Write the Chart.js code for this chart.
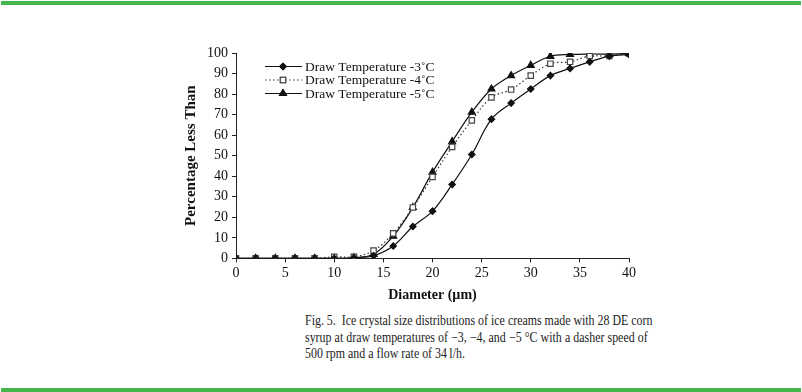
<!DOCTYPE html>
<html>
<head>
<meta charset="utf-8">
<script src="https://cdn.jsdelivr.net/npm/chart.js@4.4.1/dist/chart.umd.min.js"></script>
<style>
  html, body { margin: 0; padding: 0; background: #fff; }
  body { width: 802px; height: 392px; position: relative; overflow: hidden; }
  .bar { position: absolute; left: 1px; width: 800px; height: 4px; background: #45b649; }
  #wrap { position: absolute; left: 0; top: 0; width: 802px; height: 306px; }
  #caption { position: absolute; left: 305px; top: 312px;
    font-family: "Liberation Serif", "Times New Roman", serif; font-size: 14.2px;
    line-height: 16.5px; color: #222; transform-origin: 0 0; transform: scaleX(0.84); }
  #caption div { white-space: nowrap; width: 408px; text-align: justify; text-align-last: justify; }
  #caption div.last { text-align-last: left; }
</style>
</head>
<body>
<div class="bar" style="top:1px"></div>
<div id="wrap"><canvas id="psd"></canvas></div>
<div id="caption">
  <div>Fig. 5.&nbsp; Ice crystal size distributions of ice creams made with 28 DE corn</div>
  <div>syrup at draw temperatures of &minus;3, &minus;4, and &minus;5 &deg;C with a dasher speed of</div>
  <div class="last">500 rpm and a flow rate of 34&#8201;l/h.</div>
</div>
<div class="bar" style="top:388px"></div>
<script>
// crystal diameter (um) and cumulative % less than
const diameters = [0, 2, 4, 6, 8, 10, 12, 14, 16, 18, 20, 22, 24, 26, 28, 30, 32, 34, 36, 38, 40];
const temp3 = [0, 0, 0, 0, 0, 0, 0.3, 1.3, 6, 15.5, 23, 36, 50.6, 67.8, 75.6, 82.5, 89, 92.5, 95.7, 98.5, 99.3];
const temp4 = [0, 0, 0, 0, 0, 0.8, 0.8, 3.8, 12.2, 24.8, 39.7, 54.3, 67.2, 78.4, 82.2, 89, 94.8, 95.7, 98.5, 98.5, 99.8];
const temp5 = [0, 0, 0, 0, 0, 0, 0.3, 2, 10.8, 24.8, 42, 56.9, 71.2, 82.5, 89, 94, 98.4, 99.3, 99.5, 99.5, 99.8];
const seriesLabels = ['Draw Temperature -3\u02daC', 'Draw Temperature -4\u02daC', 'Draw Temperature -5\u02daC'];

const serif = '"Liberation Serif", "Times New Roman", serif';

function pts(vals) {
    return diameters.map((d, i) => ({ x: d, y: vals[i] }));
}

// legend drawn by hand: line sample with marker, then label
const legendPlugin = {
    id: 'sampleLegend',
    afterDraw(chart) {
        const ctx = chart.ctx;
        const rows = [66.5, 80, 93.5];
        ctx.save();
        chart.data.datasets.forEach((ds, i) => {
            const y = rows[i];
            ctx.beginPath();
            ctx.strokeStyle = ds.borderColor;
            ctx.lineWidth = 1.1;
            ctx.setLineDash(ds.borderDash || []);
            ctx.moveTo(265, y);
            ctx.lineTo(302, y);
            ctx.stroke();
            ctx.setLineDash([]);
            Chart.helpers.drawPoint(ctx, {
                pointStyle: ds.pointStyle,
                radius: ds.pointRadius,
                borderWidth: ds.pointBorderWidth || 1
            }, 283, y);
            ctx.fillStyle = ds.pointBackgroundColor;
            ctx.strokeStyle = ds.pointBorderColor;
            ctx.fill();
            ctx.stroke();
            ctx.fillStyle = '#111';
            ctx.font = '13.5px ' + serif;
            ctx.textBaseline = 'middle';
            ctx.fillText(ds.label, 305, y + 0.5);
        });
        ctx.restore();
    }
};

const ctx = document.getElementById('psd').getContext('2d');
const psdChart = new Chart(ctx, {
    type: 'line',
    data: {
        datasets: [{
            label: seriesLabels[0],
            data: pts(temp3),
            borderColor: '#111',
            borderWidth: 1.2,
            pointStyle: 'rectRot',
            pointRadius: 3.2,
            pointBackgroundColor: '#111',
            pointBorderColor: '#111',
            tension: 0.35
        }, {
            label: seriesLabels[1],
            data: pts(temp4),
            borderColor: '#333',
            borderWidth: 1.2,
            borderDash: [1.5, 2.5],
            pointStyle: 'rect',
            pointRadius: 3.8,
            pointBackgroundColor: '#fff',
            pointBorderColor: '#444',
            tension: 0.35
        }, {
            label: seriesLabels[2],
            data: pts(temp5),
            borderColor: '#111',
            borderWidth: 1.2,
            pointStyle: 'triangle',
            pointRadius: 4,
            pointBackgroundColor: '#111',
            pointBorderColor: '#111',
            tension: 0.35
        }]
    },
    options: {
        responsive: true,
        maintainAspectRatio: false,
        animation: false,
        layout: { padding: { left: 182, right: 173, top: 53, bottom: 2 } },
        scales: {
            x: {
                type: 'linear',
                min: 0,
                max: 40,
                ticks: { stepSize: 5, color: '#111', font: { family: serif, size: 14 }, padding: 3, maxRotation: 0 },
                grid: { drawOnChartArea: false, drawTicks: true, tickLength: 4, color: '#222' },
                border: { color: '#222', width: 1 },
                title: { display: true, text: 'Diameter (\u00b5m)', color: '#111', font: { family: serif, size: 14, weight: 'bold' }, padding: { top: 2, bottom: 0 } }
            },
            y: {
                min: 0,
                max: 100,
                ticks: { stepSize: 10, color: '#111', font: { family: serif, size: 14 }, padding: 4 },
                grid: { drawOnChartArea: false, drawTicks: true, tickLength: 4, color: '#222' },
                border: { color: '#222', width: 1 },
                title: { display: true, text: 'Percentage Less Than', color: '#111', font: { family: serif, size: 15, weight: 'bold' }, padding: { top: 0, bottom: 4 } },
                afterFit: function (scale) { scale.width = 54; }
            }
        },
        plugins: {
            legend: { display: false },
            tooltip: { enabled: false }
        }
    },
    plugins: [legendPlugin]
});
</script>
</body>
</html>
